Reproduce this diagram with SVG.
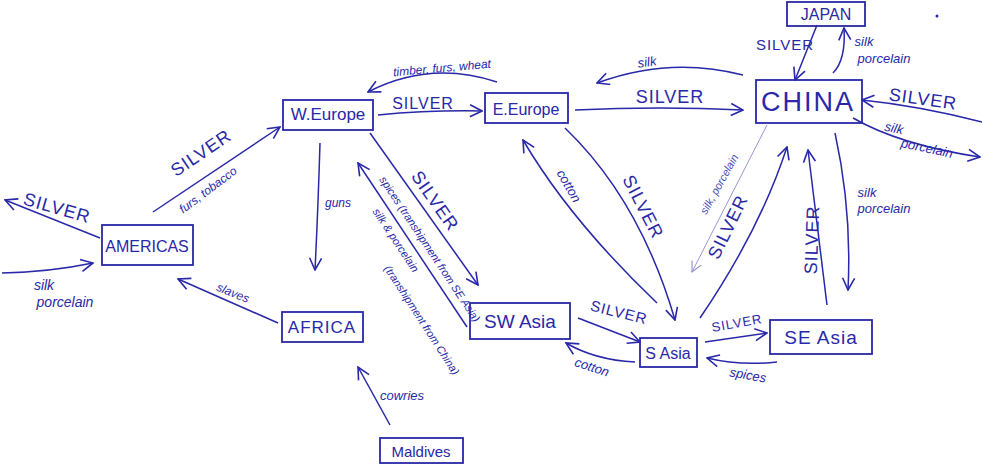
<svg xmlns="http://www.w3.org/2000/svg" width="982" height="471" viewBox="0 0 982 471">
<defs>
<style>
.box{fill:none;stroke:#2828a8;stroke-width:1.8}
.nt{font-family:"Liberation Sans","DejaVu Sans",sans-serif;fill:#2828a8;text-anchor:middle;dominant-baseline:central}
.ln{fill:none;stroke:#2828a8;stroke-width:1.5;marker-end:url(#ah)}
.thin{fill:none;stroke:#8a8ad0;stroke-width:0.9;marker-end:url(#aht)}
.big{font-family:"Liberation Sans","DejaVu Sans",sans-serif;fill:#2828a8;font-size:18px;letter-spacing:1px;text-anchor:middle;dominant-baseline:central}
.sm{font-family:"Liberation Sans","DejaVu Sans",sans-serif;fill:#2828a8;font-size:12px;font-style:italic;text-anchor:middle;dominant-baseline:central}
</style>
<marker id="ah" viewBox="0 0 14 14" refX="13" refY="7" markerWidth="14" markerHeight="14" markerUnits="userSpaceOnUse" orient="auto">
<path d="M1,1 L13,7 L1,13" fill="none" stroke="#2828a8" stroke-width="1.6"/>
</marker>
<marker id="aht" viewBox="0 0 14 14" refX="13" refY="7" markerWidth="12" markerHeight="12" markerUnits="userSpaceOnUse" orient="auto">
<path d="M1,1 L13,7 L1,13" fill="none" stroke="#8a8ad0" stroke-width="1.2"/>
</marker>
</defs>
<rect width="982" height="471" fill="#ffffff"/>

<g id="connectors">
<path class="ln" d="M153,212 L280,127"/>
<path class="ln" d="M100,238 L5,200"/>
<path class="ln" d="M2,273 Q50,272 93,263"/>
<path class="ln" d="M278,323 L178,279"/>
<path class="ln" d="M320,143 Q318,210 315,270"/>
<path class="ln" d="M378,115 Q430,110 482,111"/>
<path class="ln" d="M497,82 Q430,60 368,92"/>
<path class="ln" d="M575,110 Q660,106 743,110"/>
<path class="ln" d="M743,75 Q670,56 597,83"/>
<path class="ln" d="M817,25 L795,80"/>
<path class="ln" d="M833,73 Q846,60 844,28"/>
<path class="ln" d="M982,122 Q920,106 862,100"/>
<path class="ln" d="M853,118 Q900,145 980,157"/>
<path class="ln" d="M370,133 L478,285"/>
<path class="ln" d="M467,327 L358,163"/>
<path class="ln" d="M390,425 L358,367"/>
<path class="ln" d="M565,128 Q640,200 675,320"/>
<path class="ln" d="M657,303 Q570,220 523,140"/>
<path class="ln" d="M578,318 L640,342"/>
<path class="ln" d="M635,362 Q595,360 566,343"/>
<path class="ln" d="M700,318 Q760,230 787,147"/>
<path class="thin" d="M767,125 L692,272"/>
<path class="ln" d="M827,305 L808,150"/>
<path class="ln" d="M835,133 Q852,210 848,290"/>
<path class="ln" d="M705,342 L767,333"/>
<path class="ln" d="M777,362 Q740,366 707,358"/>

<text class="big" transform="translate(201,153) rotate(-34)">SILVER</text>
<text class="sm" transform="translate(208,190) rotate(-37)">furs, tobacco</text>
<text class="big" transform="translate(57,208) rotate(16)">SILVER</text>
<text class="sm" style="font-size:14px" x="44" y="285">silk</text>
<text class="sm" style="font-size:14px" x="65" y="302">porcelain</text>
<text class="sm" transform="translate(233,293) rotate(22)">slaves</text>
<text class="sm" x="338" y="203">guns</text>
<text class="big" style="font-size:16px" x="423" y="103">SILVER</text>
<text class="sm" transform="translate(442,68) rotate(-5)">timber, furs, wheat</text>
<text class="big" x="670" y="97">SILVER</text>
<text class="sm" style="font-size:13px" transform="translate(647,62) rotate(-8)">silk</text>
<text class="big" style="font-size:15px" x="785" y="44">SILVER</text>
<text class="sm" style="font-size:13px" x="864" y="41">silk</text>
<text class="sm" style="font-size:13px" x="884" y="58">porcelain</text>
<text class="big" transform="translate(923,99) rotate(8)">SILVER</text>
<text class="sm" style="font-size:13px" transform="translate(894,128) rotate(12)">silk</text>
<text class="sm" style="font-size:13px" transform="translate(927,148) rotate(12)">porcelain</text>
<text class="big" transform="translate(435,201) rotate(55)">SILVER</text>
<text class="sm" style="font-size:11px" transform="translate(430,249) rotate(56.4)">spices (transhipment from SE Asia)</text>
<text class="sm" style="font-size:11px" transform="translate(396,240) rotate(56.4)">silk &amp; porcelain</text>
<text class="sm" style="font-size:11px" transform="translate(422,320) rotate(57)">(transhipment from China)</text>
<text class="sm" style="font-size:13px" x="402" y="395">cowries</text>
<text class="big" transform="translate(643,207) rotate(63)">SILVER</text>
<text class="sm" style="font-size:13px" transform="translate(569,186) rotate(60)">cotton</text>
<text class="big" style="font-size:15px" transform="translate(619,312) rotate(14)">SILVER</text>
<text class="sm" style="font-size:13px" transform="translate(592,367) rotate(18)">cotton</text>
<text class="big" transform="translate(728,227) rotate(-64)">SILVER</text>
<text class="sm" style="font-size:11px;fill:#4a4ab8" transform="translate(719,184) rotate(-61)">silk, porcelain</text>
<text class="big" transform="translate(812,240) rotate(-88)">SILVER</text>
<text class="sm" style="font-size:13px" x="867" y="192">silk</text>
<text class="sm" style="font-size:13px" x="884" y="208">porcelain</text>
<text class="big" style="font-size:13px" transform="translate(737,323) rotate(-10)">SILVER</text>
<text class="sm" style="font-size:13px" transform="translate(748,375) rotate(10)">spices</text>
</g>

<g id="japan"><rect class="box" x="787" y="2" width="78" height="24"/><text class="nt" x="826" y="14" font-size="16">JAPAN</text></g>
<g id="china"><rect class="box" x="756" y="80" width="106" height="43"/><text class="nt" x="808" y="102" font-size="27" letter-spacing="2">CHINA</text></g>
<g id="weurope"><rect class="box" x="283" y="100" width="90" height="30"/><text class="nt" x="328" y="114" font-size="17">W.Europe</text></g>
<g id="eeurope"><rect class="box" x="485" y="93" width="83" height="30"/><text class="nt" x="526" y="109" font-size="16">E.Europe</text></g>
<g id="americas"><rect class="box" x="102" y="225" width="91" height="40"/><text class="nt" x="147" y="246" font-size="16">AMERICAS</text></g>
<g id="africa"><rect class="box" x="282" y="312" width="81" height="30"/><text class="nt" x="322" y="327" font-size="17" letter-spacing="1">AFRICA</text></g>
<g id="swasia"><rect class="box" x="470" y="303" width="100" height="36"/><text class="nt" x="520" y="321" font-size="19">SW Asia</text></g>
<g id="sasia"><rect class="box" x="640" y="338" width="57" height="29"/><text class="nt" x="668" y="353" font-size="16">S Asia</text></g>
<g id="seasia"><rect class="box" x="770" y="320" width="102" height="34"/><text class="nt" x="821" y="337" font-size="19" letter-spacing="1">SE Asia</text></g>
<g id="maldives"><rect class="box" x="380" y="438" width="83" height="25"/><text class="nt" x="421" y="451" font-size="15">Maldives</text></g>
<circle cx="937" cy="16" r="1.5" fill="#2828a8"/>
</svg>
